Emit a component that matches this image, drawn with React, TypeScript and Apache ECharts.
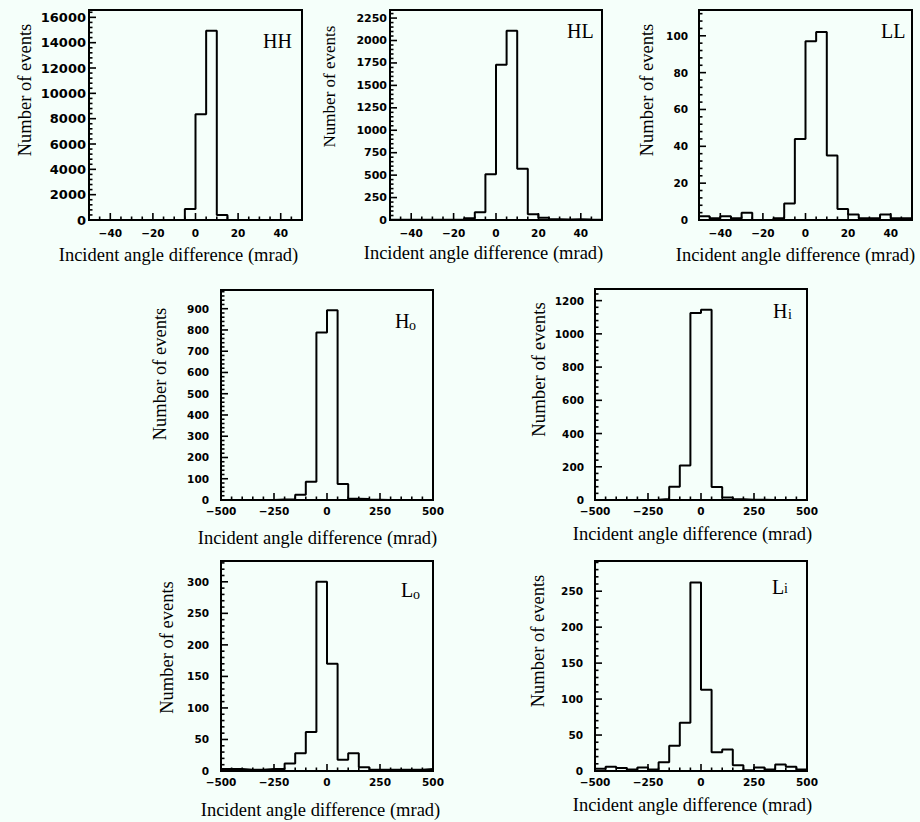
import React, { useEffect, useRef } from "react";
import * as echarts from "echarts";

// ---------------- data ----------------
// top row: 20 bins of 5 mrad from -50 to 50
const TOP_RANGE = [-50, 50];
const TOP_BIN = 5;
const HH_COUNTS = [0, 0, 0, 0, 0, 0, 0, 0, 0, 870, 8350, 14950, 400, 0, 0, 0, 0, 0, 0, 0];
const HL_COUNTS = [3, 2, 3, 2, 3, 3, 5, 20, 85, 510, 1730, 2110, 570, 65, 25, 8, 5, 8, 5, 3];
const LL_COUNTS = [2, 1, 2, 1, 4, 0, 0, 1, 9, 44, 97, 102, 35, 6, 3, 1, 1, 3, 1, 1];
// bottom rows: 20 bins of 50 mrad from -500 to 500
const BOT_RANGE = [-500, 500];
const BOT_BIN = 50;
const HO_COUNTS = [0, 0, 0, 0, 0, 2, 3, 25, 86, 788, 893, 75, 6, 5, 1, 0, 0, 0, 0, 0];
const HI_COUNTS = [0, 0, 0, 0, 0, 2, 6, 80, 207, 1125, 1145, 78, 15, 5, 2, 1, 0, 0, 0, 0];
const LO_COUNTS = [3, 3, 2, 2, 3, 3, 12, 28, 62, 300, 170, 18, 28, 6, 2, 2, 2, 2, 2, 3];
const LI_COUNTS = [3, 6, 4, 2, 5, 2, 12, 35, 67, 262, 113, 26, 30, 8, 1, 5, 2, 9, 6, 2];

const TOP_X_LABELS = [-40, -20, 0, 20, 40];
const BOT_X_LABELS = [-500, -250, 0, 250, 500];
const TOP_X_MAJOR = 20;
const BOT_X_MAJOR = 250;

const Y_TITLE = "Number of events";
const X_TITLE = "Incident angle difference (mrad)";

// ---------------- panels ----------------
type Panel = {
  counts: number[];
  range: number[];
  bin: number;
  top: boolean;
  ymax: number;
  yInterval: number;
  name: string;
  sub: string;
  grid: number[]; // left, top, width, height
  yLabelSize: number;
  yLabelMargin: number;
  xLabelMargin: number;
  yTitle: number[]; // x, y, size
  xTitle: number[]; // x, y
  nameMain: number[]; // x, y
  nameSub: number[]; // x, y
};

const PANELS: Panel[] = [
  { counts: HH_COUNTS, range: TOP_RANGE, bin: TOP_BIN, top: true, ymax: 16580, yInterval: 2000, name: "HH", sub: "",
    grid: [89, 10, 213, 210], yLabelSize: 13, yLabelMargin: 3, xLabelMargin: 7,
    yTitle: [25, 90, 18.5], xTitle: [178.5, 255], nameMain: [263, 40.5], nameSub: [0, 0] },
  { counts: HL_COUNTS, range: TOP_RANGE, bin: TOP_BIN, top: true, ymax: 2340, yInterval: 250, name: "HL", sub: "",
    grid: [390, 10, 212, 210], yLabelSize: 11, yLabelMargin: 3, xLabelMargin: 7,
    yTitle: [329, 86.5, 17], xTitle: [483.5, 253], nameMain: [567, 30.5], nameSub: [0, 0] },
  { counts: LL_COUNTS, range: TOP_RANGE, bin: TOP_BIN, top: true, ymax: 114, yInterval: 20, name: "LL", sub: "",
    grid: [699, 10, 213, 210], yLabelSize: 10.5, yLabelMargin: 11, xLabelMargin: 7,
    yTitle: [647, 90, 18.5], xTitle: [795.5, 254.5], nameMain: [881, 31], nameSub: [0, 0] },
  { counts: HO_COUNTS, range: BOT_RANGE, bin: BOT_BIN, top: false, ymax: 988, yInterval: 100, name: "H", sub: "o",
    grid: [221, 290, 212, 210], yLabelSize: 10.5, yLabelMargin: 12, xLabelMargin: 5,
    yTitle: [160, 374, 18.5], xTitle: [317.5, 538], nameMain: [395, 320.5], nameSub: [409, 325] },
  { counts: HI_COUNTS, range: BOT_RANGE, bin: BOT_BIN, top: false, ymax: 1270, yInterval: 200, name: "H", sub: "i",
    grid: [595, 289, 212, 211], yLabelSize: 10.5, yLabelMargin: 11, xLabelMargin: 5,
    yTitle: [538, 369.5, 18.8], xTitle: [692.5, 534], nameMain: [773, 311], nameSub: [788, 314.3] },
  { counts: LO_COUNTS, range: BOT_RANGE, bin: BOT_BIN, top: false, ymax: 333, yInterval: 50, name: "L", sub: "o",
    grid: [221, 561, 212, 210], yLabelSize: 10.5, yLabelMargin: 12, xLabelMargin: 5.5,
    yTitle: [167, 647.5, 18.5], xTitle: [320.5, 810], nameMain: [401, 590], nameSub: [413, 594] },
  { counts: LI_COUNTS, range: BOT_RANGE, bin: BOT_BIN, top: false, ymax: 292, yInterval: 50, name: "L", sub: "i",
    grid: [595, 561, 212, 210], yLabelSize: 10.5, yLabelMargin: 12, xLabelMargin: 5.5,
    yTitle: [538, 641, 18.5], xTitle: [692.5, 805], nameMain: [772, 586.5], nameSub: [784, 588.3] },
];

const BG = "#f5fffa";
const INK = "#000000";
const SERIF = "'Liberation Serif', 'Times New Roman', serif";
const SANS = "'DejaVu Sans', Verdana, sans-serif";
const MAJOR_LEN = 7;
const MINOR_LEN = 3.5;

const fmt = (v: number) => (v < 0 ? "\u2212" + Math.abs(v) : String(v));

// tick values for one panel: [x, y, kind(0 = x tick, 1 = y tick), length]
function buildTicks(p: Panel): number[][] {
  const out: number[][] = [];
  const xMajor = p.top ? TOP_X_MAJOR : BOT_X_MAJOR;
  const nx = Math.round((p.range[1] - p.range[0]) / p.bin);
  for (let k = 1; k < nx; k++) {
    const v = p.range[0] + k * p.bin;
    out.push([v, 0, 0, v % xMajor === 0 ? MAJOR_LEN : MINOR_LEN]);
  }
  const yStep = p.yInterval / 5;
  for (let k = 1; k * yStep < p.ymax; k++) {
    out.push([p.range[0], k * yStep, 1, k % 5 === 0 ? MAJOR_LEN : MINOR_LEN]);
  }
  return out;
}

function textGraphics(): any[] {
  const g: any[] = [];
  PANELS.forEach((p) => {
    g.push({
      type: "text", x: p.yTitle[0], y: p.yTitle[1], rotation: Math.PI / 2,
      style: { text: Y_TITLE, fill: INK, font: `${p.yTitle[2]}px ${SERIF}`, align: "center", verticalAlign: "middle",
        textAlign: "center", textVerticalAlign: "middle" },
    });
    g.push({
      type: "text", x: p.xTitle[0], y: p.xTitle[1],
      style: { text: X_TITLE, fill: INK, font: `18.5px ${SERIF}`, align: "center", verticalAlign: "middle",
        textAlign: "center", textVerticalAlign: "middle" },
    });
    g.push({
      type: "text", x: p.nameMain[0], y: p.nameMain[1],
      style: { text: p.name, fill: INK, font: `20px ${SERIF}`, align: "left", verticalAlign: "middle",
        textAlign: "left", textVerticalAlign: "middle" },
    });
    if (p.sub) {
      g.push({
        type: "text", x: p.nameSub[0], y: p.nameSub[1],
        style: { text: p.sub, fill: INK, font: `14px ${SERIF}`, align: "left", verticalAlign: "middle",
          textAlign: "left", textVerticalAlign: "middle" },
      });
    }
  });
  return g;
}

function buildOption() {
  const grid: any[] = [];
  const xAxis: any[] = [];
  const yAxis: any[] = [];
  const series: any[] = [];

  PANELS.forEach((p, i) => {
    grid.push({
      left: p.grid[0], top: p.grid[1], width: p.grid[2], height: p.grid[3],
      show: true, borderColor: INK, borderWidth: 2,
    });
    xAxis.push({
      type: "value", gridIndex: i,
      min: p.range[0], max: p.range[1],
      interval: p.top ? p.bin : BOT_X_MAJOR,
      axisLine: { show: true, onZero: false, lineStyle: { color: INK, width: 2 } },
      axisTick: { show: false },
      minorTick: { show: false },
      splitLine: { show: false },
      axisLabel: {
        show: true, margin: p.xLabelMargin, color: INK, fontFamily: SANS, fontWeight: "bold", fontSize: 10.5,
        formatter: (v: number) => fmt(v),
        customValues: p.top ? TOP_X_LABELS : BOT_X_LABELS,
      },
    });
    yAxis.push({
      type: "value", gridIndex: i,
      min: 0, max: p.ymax, interval: p.yInterval,
      axisLine: { show: true, onZero: false, lineStyle: { color: INK, width: 2 } },
      axisTick: { show: false },
      minorTick: { show: false },
      splitLine: { show: false },
      axisLabel: {
        show: true, margin: p.yLabelMargin, color: INK, fontFamily: SANS, fontWeight: "bold", fontSize: p.yLabelSize,
        formatter: (v: number) => (v % p.yInterval === 0 ? fmt(v) : ""),
      },
    });

    const n = p.counts.length;
    const pts: number[][] = p.counts.map((c, k) => [p.range[0] + k * p.bin, c]);
    pts.push([p.range[0] + n * p.bin, p.counts[n - 1]]);
    series.push({
      type: "line", step: "end", xAxisIndex: i, yAxisIndex: i,
      data: pts, symbol: "none",
      lineStyle: { color: INK, width: 2 },
    });
  });

  return {
    animation: false,
    backgroundColor: BG,
    grid, xAxis, yAxis, series,
    graphic: textGraphics(),
  };
}

export default function App() {
  const ref = useRef<HTMLDivElement | null>(null);
  useEffect(() => {
    if (!ref.current) return;
    const chart = echarts.init(ref.current, undefined, { renderer: "svg", width: 920, height: 822 });
    chart.setOption(buildOption() as any);
    // inward ROOT-style ticks, positioned through each grid's axis scales
    const ticks: any[] = [];
    PANELS.forEach((p, i) => {
      buildTicks(p).forEach((t) => {
        const pt = chart.convertToPixel({ gridIndex: i } as any, [t[0], t[1]]) as any;
        if (!pt || !isFinite(pt[0]) || !isFinite(pt[1])) return;
        const x2 = t[2] === 1 ? pt[0] + t[3] : pt[0];
        const y2 = t[2] === 1 ? pt[1] : pt[1] - t[3];
        ticks.push({
          type: "line", z: 10, silent: true,
          shape: { x1: pt[0], y1: pt[1], x2, y2 },
          style: { stroke: INK, lineWidth: 1.6 },
        });
      });
    });
    chart.setOption({ graphic: [...textGraphics(), ...ticks] } as any);
    return () => chart.dispose();
  }, []);
  return (
    <div
      ref={ref}
      style={{ position: "fixed", left: 0, top: 0, width: 920, height: 822, background: BG }}
    />
  );
}
